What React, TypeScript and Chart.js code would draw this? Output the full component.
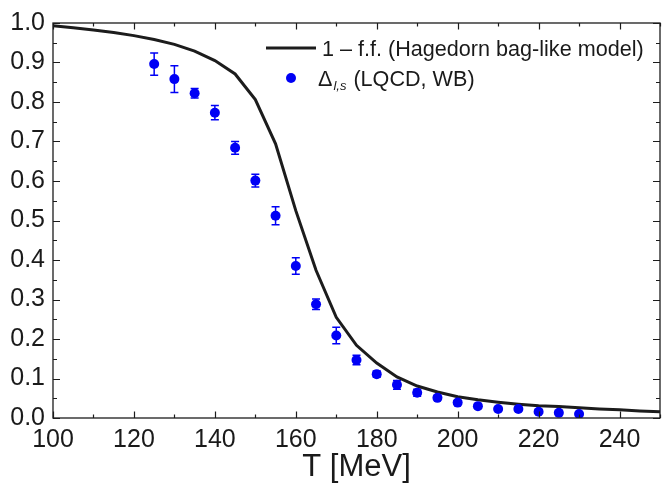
import React, { useEffect, useRef } from 'react';
import { Chart, registerables } from 'chart.js';
Chart.register(...registerables);

const curveT = [100, 105, 110, 115, 120, 125, 130, 135, 140, 145, 150, 155, 160, 165, 170, 175, 180, 185, 190, 195, 200, 205, 210, 215, 220, 225, 230, 235, 240, 245, 250];
const curveVal = [0.993, 0.988, 0.982, 0.976, 0.968, 0.958, 0.946, 0.929, 0.905, 0.871, 0.806, 0.694, 0.525, 0.374, 0.255, 0.184, 0.139, 0.104, 0.081, 0.066, 0.054, 0.046, 0.040, 0.035, 0.031, 0.029, 0.026, 0.023, 0.021, 0.018, 0.016];

const latticeT = [125, 130, 135, 140, 145, 150, 155, 160, 165, 170, 175, 180, 185, 190, 195, 200, 205, 210, 215, 220, 225, 230];
const latticeVal = [0.896, 0.858, 0.822, 0.773, 0.684, 0.601, 0.512, 0.385, 0.288, 0.209, 0.147, 0.111, 0.084, 0.064, 0.051, 0.039, 0.030, 0.023, 0.023, 0.016, 0.013, 0.010];
const latticeErr = [0.028, 0.034, 0.012, 0.018, 0.016, 0.016, 0.023, 0.021, 0.013, 0.021, 0.012, 0.008, 0.011, 0.009, 0.005, 0.005, 0.004, 0.004, 0.004, 0.004, 0.004, 0.004];

const legendCurve = '1 \u2013 f.f. (Hagedorn bag-like model)';
const legendDelta = '\u0394';
const legendDeltaSub = 'l,s';
const legendLattice = ' (LQCD, WB)';

const FONT = '"Liberation Sans", Arial, Helvetica, sans-serif';
const BLUE = '#0000f5';
const INK = '#1c1c1c';

const frameTicksPlugin = {
  id: 'frameTicks',
  afterDatasetsDraw(chart: any) {
    const { ctx, chartArea: a, scales } = chart;
    const xs = scales.x, ys = scales.y;
    ctx.save();
    ctx.strokeStyle = INK;
    ctx.lineWidth = 1.3;
    ctx.strokeRect(a.left, a.top, a.right - a.left, a.bottom - a.top);
    ctx.beginPath();
    for (let v = xs.min; v <= xs.max + 1e-9; v += 10) {
      const major = Math.abs((v - xs.min) % 20) < 1e-6;
      const len = major ? 6.5 : 3.5;
      const px = Math.round(xs.getPixelForValue(v)) + 0.5;
      ctx.moveTo(px, a.bottom); ctx.lineTo(px, a.bottom - len);
      ctx.moveTo(px, a.top); ctx.lineTo(px, a.top + len);
    }
    for (let i = 0; i <= 20; i++) {
      const v = i * 0.05;
      const major = i % 2 === 0;
      const len = major ? 7 : 4;
      const py = Math.round(ys.getPixelForValue(v)) + 0.5;
      ctx.moveTo(a.left, py); ctx.lineTo(a.left + len, py);
      ctx.moveTo(a.right, py); ctx.lineTo(a.right - len, py);
    }
    ctx.lineWidth = 1.2;
    ctx.stroke();
    ctx.restore();
  },
};

const errorBarPlugin = {
  id: 'errorBars',
  beforeDatasetsDraw(chart: any) {
    const { ctx, scales } = chart;
    const xs = scales.x, ys = scales.y;
    ctx.save();
    ctx.strokeStyle = BLUE;
    ctx.lineWidth = 1.5;
    ctx.beginPath();
    latticeT.forEach((t, i) => {
      const px = xs.getPixelForValue(t);
      const top = ys.getPixelForValue(latticeVal[i] + latticeErr[i]);
      const bot = ys.getPixelForValue(latticeVal[i] - latticeErr[i]);
      ctx.moveTo(px, top); ctx.lineTo(px, bot);
      ctx.moveTo(px - 4, top); ctx.lineTo(px + 4, top);
      ctx.moveTo(px - 4, bot); ctx.lineTo(px + 4, bot);
    });
    ctx.stroke();
    ctx.restore();
  },
};

const legendPlugin = {
  id: 'customLegend',
  afterDraw(chart: any) {
    const { ctx, chartArea: a } = chart;
    const x0 = a.left + 213;
    const y1 = a.top + 25;
    const y2 = a.top + 55;
    ctx.save();
    ctx.strokeStyle = INK;
    ctx.lineWidth = 3;
    ctx.beginPath();
    ctx.moveTo(x0, y1); ctx.lineTo(x0 + 50, y1);
    ctx.stroke();
    ctx.fillStyle = '#1a1a1a';
    ctx.textBaseline = 'alphabetic';
    ctx.font = `21.6px ${FONT}`;
    ctx.fillText(legendCurve, x0 + 56, y1 + 8);
    ctx.fillStyle = BLUE;
    ctx.beginPath();
    ctx.arc(x0 + 25, y2, 5, 0, Math.PI * 2);
    ctx.fill();
    ctx.fillStyle = '#1a1a1a';
    let tx = x0 + 52;
    ctx.fillText(legendDelta, tx, y2 + 8);
    tx += ctx.measureText(legendDelta).width + 1;
    ctx.font = `italic 13px ${FONT}`;
    ctx.fillText(legendDeltaSub, tx, y2 + 12);
    tx += ctx.measureText(legendDeltaSub).width + 1;
    ctx.font = `21.6px ${FONT}`;
    ctx.fillText(legendLattice, tx, y2 + 8);
    ctx.restore();
  },
};

export default function App() {
  const ref = useRef<HTMLCanvasElement | null>(null);
  useEffect(() => {
    if (!ref.current) return;
    const chart = new Chart(ref.current, {
      type: 'scatter',
      data: {
        datasets: [
          {
            label: legendCurve,
            data: curveT.map((t, i) => ({ x: t, y: curveVal[i] })),
            showLine: true,
            borderColor: INK,
            borderWidth: 3,
            pointRadius: 0,
            tension: 0,
            order: 1,
          },
          {
            label: 'lattice',
            data: latticeT.map((t, i) => ({ x: t, y: latticeVal[i] })),
            showLine: false,
            backgroundColor: BLUE,
            borderColor: BLUE,
            pointRadius: 5,
            borderWidth: 0,
            order: 0,
          },
        ],
      },
      options: {
        animation: false,
        responsive: false,
        devicePixelRatio: 1,
        layout: { padding: { top: 22, right: 4, left: 0, bottom: 0 } },
        plugins: { legend: { display: false }, tooltip: { enabled: false } },
        scales: {
          x: {
            type: 'linear',
            min: 100,
            max: 250,
            grid: { display: false, drawTicks: false },
            border: { display: false },
            ticks: { stepSize: 20, includeBounds: false, padding: 7, color: '#1a1a1a', font: { family: FONT, size: 25 } },
            title: { display: true, text: 'T [MeV]', color: '#1a1a1a', font: { family: FONT, size: 31 }, padding: { top: 0, bottom: 1 } },
            afterFit: (s: any) => { s.height = 69; },
          },
          y: {
            type: 'linear',
            min: 0,
            max: 1,
            grid: { display: false, drawTicks: false },
            border: { display: false },
            ticks: { stepSize: 0.1, padding: 8, color: '#1a1a1a', font: { family: FONT, size: 25 }, callback: (v: any) => Number(v).toFixed(1) },
            afterFit: (s: any) => { s.width = 53; },
          },
        },
      } as any,
      plugins: [errorBarPlugin, frameTicksPlugin, legendPlugin],
    });
    return () => chart.destroy();
  }, []);
  return (
    <div style={{ position: 'absolute', left: 0, top: 0, width: 665, height: 487, background: '#fff' }}>
      <canvas ref={ref} width={665} height={487} />
    </div>
  );
}
